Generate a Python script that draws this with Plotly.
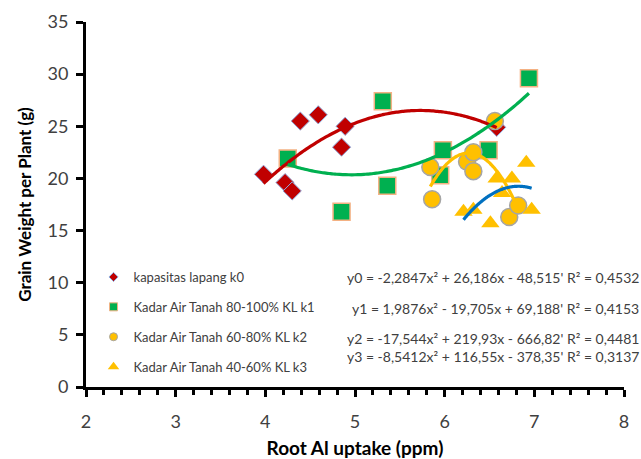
import numpy as np
import plotly.graph_objects as go

# ---- data ----
k0_x = [3.98, 4.22, 4.30, 4.39, 4.59, 4.85, 4.89, 6.58]
k0_y = [20.4, 19.6, 18.8, 25.5, 26.1, 23.0, 25.0, 24.9]

k1_x = [4.25, 4.85, 5.31, 5.36, 5.95, 5.98, 6.49, 6.94]
k1_y = [21.9, 16.8, 27.4, 19.3, 20.3, 22.7, 22.7, 29.6]

k2_x = [5.84, 5.86, 6.25, 6.32, 6.32, 6.56, 6.72, 6.82]
k2_y = [21.1, 18.0, 21.6, 20.7, 22.5, 25.5, 16.3, 17.4]

k3_x = [6.21, 6.32, 6.51, 6.58, 6.64, 6.75, 6.91, 6.97]
k3_y = [16.8, 17.0, 15.7, 20.0, 18.6, 20.0, 21.5, 17.0]

names = ["kapasitas lapang k0", "Kadar Air Tanah 80-100% KL k1",
         "Kadar Air Tanah 60-80% KL k2", "Kadar Air Tanah 40-60% KL k3"]

# trendline coefficients as printed (a, b, c)
coef0 = [-2.2847, 26.186, -48.515]
coef1 = [1.9876, -19.705, 69.188]
coef2 = [-17.544, 219.93, -666.82]
coef3 = [-8.5412, 116.55, -378.35]

eq_labels = [
    "y0 = -2,2847x² + 26,186x - 48,515' R² = 0,4532",
    "y1 = 1,9876x² - 19,705x + 69,188' R² = 0,4153",
    "y2 = -17,544x² + 219,93x - 666,82' R² = 0,4481",
    "y3 = -8,5412x² + 116,55x - 378,35' R² = 0,3137",
]

x_ticks = [2, 3, 4, 5, 6, 7, 8]
y_ticks = [0, 5, 10, 15, 20, 25, 30, 35]

# ---- styles ----
colors = ["#C00000", "#00B050", "#FFC000", "#FFC000"]
line_colors = ["#C00000", "#00B050", "#FFC000", "#0070C0"]
symbols = ["diamond", "square", "circle", "triangle-up"]
sizes = [14, 17, 17, 16]
legend_sizes = [7, 8, 8, 10]
edge_colors = ["#8FAADC", "#F4B183", "#A5A5A5", "#FFC000"]
edge_widths = [1, 1.5, 1.5, 0]

FONT = "Lato, 'Open Sans', sans-serif"

fig = go.Figure()
series = [(k0_x, k0_y), (k1_x, k1_y), (k2_x, k2_y), (k3_x, k3_y)]
for i, (xs, ys) in enumerate(series):
    fig.add_trace(go.Scatter(
        x=xs, y=ys, mode="markers", name=names[i],
        legendgroup=f"g{i}", showlegend=False,
        marker=dict(symbol=symbols[i], size=sizes[i], color=colors[i],
                    line=dict(color=edge_colors[i], width=edge_widths[i])),
    ))
    # legend-only entry with the small legend marker
    fig.add_trace(go.Scatter(
        x=[None], y=[None], mode="markers", name=names[i],
        legendgroup=f"g{i}", showlegend=True,
        marker=dict(symbol=symbols[i], size=legend_sizes[i], color=colors[i],
                    line=dict(color=edge_colors[i], width=min(edge_widths[i], 1))),
    ))

for i, (coef, (xs, _)) in enumerate(zip([coef0, coef1, coef2, coef3], series)):
    xx = np.linspace(min(xs), max(xs), 80)
    yy = np.polyval(coef, xx)
    fig.add_trace(go.Scatter(
        x=xx, y=yy, mode="lines", showlegend=False,
        line=dict(color=line_colors[i], width=3.2, shape="spline"),
        hoverinfo="skip",
    ))

# equations (right aligned near the right edge)
eq_y_px = [277, 308, 338, 356]
H = 459
T, B = 22, 72
plot_h = H - T - B
for lab, ypx in zip(eq_labels, eq_y_px):
    fig.add_annotation(
        text=lab, xref="paper", yref="paper",
        x=(641 - 86) / 538, y=(H - B - ypx) / plot_h,
        xanchor="right", yanchor="middle", showarrow=False,
        font=dict(family=FONT, size=14, color="#404040"),
    )

fig.update_layout(
    width=641, height=459,
    margin=dict(l=86, r=17, t=T, b=B, autoexpand=False),
    paper_bgcolor="white", plot_bgcolor="white",
    font=dict(family=FONT, color="#404040"),
    showlegend=True,
    legend=dict(
        x=0.014, y=(H - B - 262) / plot_h, xanchor="left", yanchor="top",
        bgcolor="rgba(0,0,0,0)", font=dict(size=13, color="#404040"),
        itemsizing="trace", itemwidth=30, tracegroupgap=10,
        traceorder="grouped",
    ),
    xaxis=dict(
        range=[2, 8], tickvals=x_ticks, showgrid=False, zeroline=False,
        automargin=False,
        showline=True, linecolor="black", linewidth=3,
        ticks="outside", ticklen=7, tickwidth=2.5, tickcolor="black",
        minor=dict(dtick=0.2, ticks="outside", ticklen=5, tickwidth=2.5,
                   tickcolor="black", showgrid=False),
        tickfont=dict(size=18, color="#404040"), ticklabelstandoff=9,
        title=dict(text="<b>Root Al uptake (ppm)</b>",
                   font=dict(size=19, color="black"), standoff=12),
    ),
    yaxis=dict(
        range=[0, 35], tickvals=y_ticks, showgrid=False, zeroline=False,
        automargin=False,
        showline=True, linecolor="black", linewidth=3,
        ticks="outside", ticklen=7, tickwidth=2.5, tickcolor="black",
        tickfont=dict(size=18, color="#404040"), ticklabelstandoff=4,
        title=dict(text="<b>Grain Weight per Plant (g)</b>",
                   font=dict(size=17, color="black"), standoff=12),
    ),
)

fig.write_html("out.html")
